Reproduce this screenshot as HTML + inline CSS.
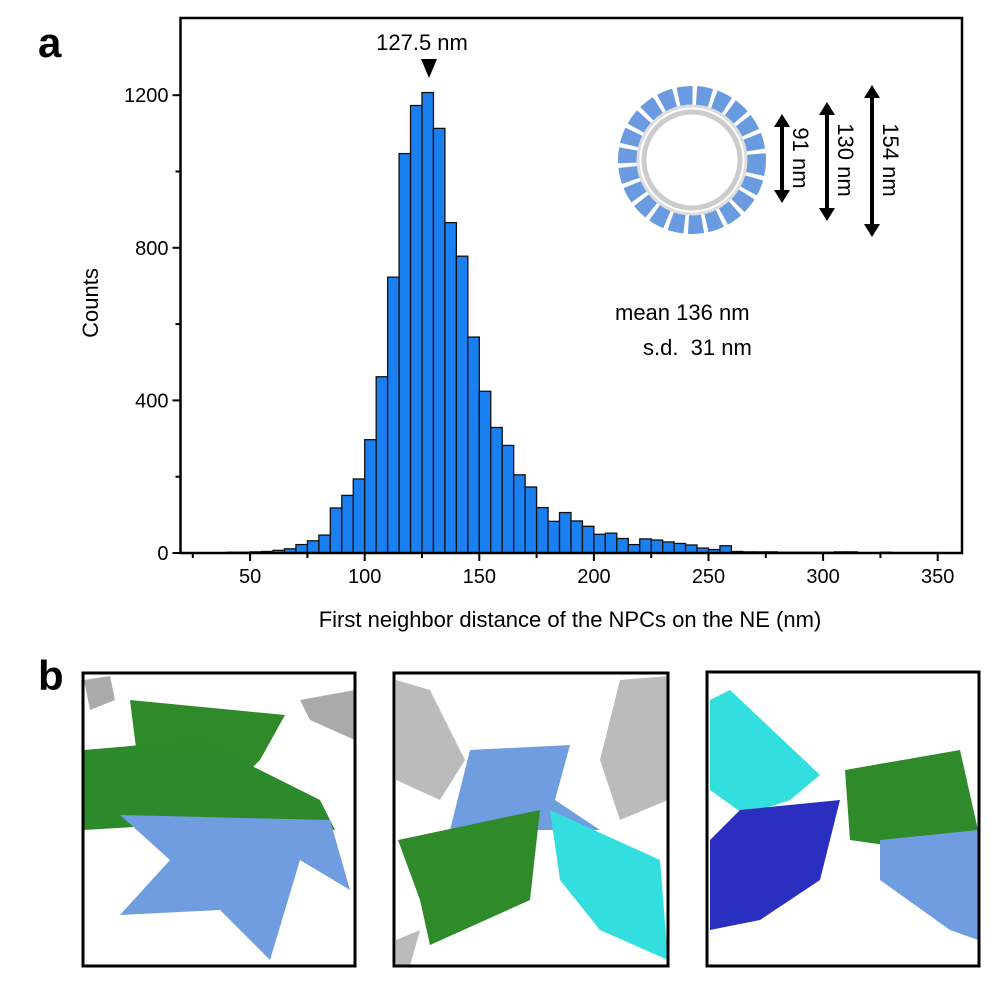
<!DOCTYPE html>
<html><head><meta charset="utf-8"><style>
body{margin:0;background:#fff;}
svg text{font-family:"Liberation Sans",Arial,sans-serif;}
</style></head><body>
<svg id="fig" width="1006" height="992" viewBox="0 0 1006 992" xmlns="http://www.w3.org/2000/svg">
<text x="38" y="57" font-size="42" font-weight="bold">a</text>
<text x="38" y="690" font-size="42" font-weight="bold">b</text>
<g id="chart"></g>
<text x="98" y="303" font-size="22" text-anchor="middle" transform="rotate(-90 98 303)">Counts</text>
<text x="570" y="627" font-size="22" text-anchor="middle">First neighbor distance of the NPCs on the NE (nm)</text>
<text x="422" y="50" font-size="22" text-anchor="middle">127.5 nm</text>
<polygon points="421,59 437,59 429,78" fill="#000"/>
<text x="615" y="320" font-size="22">mean 136 nm</text>
<text x="643" y="355" font-size="22">s.d.&#160; 31 nm</text>
<g>
  <circle cx="692" cy="160" r="64" fill="none" stroke="#6a9be0" stroke-width="20" stroke-dasharray="14 4"/>
  <circle cx="692" cy="160" r="48" fill="none" stroke="#ccc" stroke-width="5"/>
  <circle cx="692" cy="160" r="54" fill="none" stroke="#ddd" stroke-width="3"/>
</g>
<g fill="#000" stroke="#000">
  <line x1="782" y1="125" x2="782" y2="192" stroke-width="4"/>
  <polygon points="774,127 790,127 782,114" stroke="none"/><polygon points="774,190 790,190 782,203" stroke="none"/>
  <line x1="827" y1="113" x2="827" y2="210" stroke-width="4"/>
  <polygon points="819,115 835,115 827,102" stroke="none"/><polygon points="819,208 835,208 827,221" stroke="none"/>
  <line x1="872" y1="96" x2="872" y2="226" stroke-width="4"/>
  <polygon points="864,98 880,98 872,85" stroke="none"/><polygon points="864,224 880,224 872,237" stroke="none"/>
</g>
<text x="793" y="158" font-size="22" text-anchor="middle" transform="rotate(90 793 158)">91 nm</text>
<text x="838" y="160" font-size="22" text-anchor="middle" transform="rotate(90 838 160)">130 nm</text>
<text x="883" y="160" font-size="22" text-anchor="middle" transform="rotate(90 883 160)">154 nm</text>

<g>
  <rect x="83" y="673" width="272" height="293" fill="#fff"/>
  <polygon points="84,680 110,676 115,700 90,710" fill="#aaa"/>
  <polygon points="300,700 355,690 355,740 310,720" fill="#aaa"/>
  <polygon points="130,700 285,715 260,760 220,800 140,780" fill="#2f8a2a"/>
  <polygon points="84,750 200,740 320,800 335,830 250,820 84,830" fill="#2d8a2a"/>
  <polygon points="120,815 330,820 350,890 300,860 270,960 220,910 120,915 170,860" fill="#6f9de0"/>
</g>
<g>
  <rect x="394" y="673" width="274" height="293" fill="#fff"/>
  <polygon points="396,680 430,690 465,760 440,800 396,780" fill="#bbb"/>
  <polygon points="620,680 668,676 668,800 620,820 600,760" fill="#bbb"/>
  <polygon points="470,750 570,745 555,800 600,830 450,830" fill="#6f9de0"/>
  <polygon points="398,840 540,810 530,900 430,945 420,900" fill="#2f8a2a"/>
  <polygon points="550,810 660,860 668,960 600,930 560,880" fill="#33dede"/>
  <polygon points="396,940 420,930 410,966 396,966" fill="#bbb"/>
</g>
<g>
  <rect x="707" y="673" width="272" height="293" fill="#fff"/>
  <polygon points="710,700 730,690 820,775 790,800 745,815 710,790" fill="#33dede"/>
  <polygon points="845,770 960,750 978,830 920,850 850,840" fill="#2f8a2a"/>
  <polygon points="740,810 840,800 820,880 760,920 710,930 710,840" fill="#2a2fc0"/>
  <polygon points="880,840 978,830 978,940 950,930 880,880" fill="#6f9de0"/>
</g>
<rect x="83" y="673" width="272" height="293" fill="none" stroke="#000" stroke-width="3"/>
<rect x="394" y="673" width="274" height="293" fill="none" stroke="#000" stroke-width="3"/>
<rect x="707" y="672" width="272" height="294" fill="none" stroke="#000" stroke-width="3"/>
</svg>
<script>
const binStarts = [40,45,50,55,60,65,70,75,80,85,90,95,100,105,110,115,120,125,130,135,140,145,150,155,160,165,170,175,180,185,190,195,200,205,210,215,220,225,230,235,240,245,250,255,260,265,270,275,280,285,290,295,300,305,310,315,320,325,330,335,340,345];
const counts = [2,2,3,4,7,11,22,32,47,118,151,194,297,462,723,1047,1173,1207,1113,866,778,566,424,329,282,205,173,119,83,106,84,70,49,52,38,22,37,34,29,25,21,13,9,19,4,3,3,3,2,2,2,2,2,3,3,1,1,2,1,1,1,1];
const xTickValues = [50,100,150,200,250,300,350];
const yTickValues = [0,400,800,1200];
const binWidth = 5;
const NS = 'http://www.w3.org/2000/svg';
const L=180.5, R=962, T=18, B=553;
function xs(v){return 479.3+(v-150)*2.292;}
function ys(c){return B-c*0.3815;}
const g=document.getElementById('chart');
function mk(tag,attrs){const e=document.createElementNS(NS,tag);for(const k in attrs)e.setAttribute(k,attrs[k]);g.appendChild(e);return e;}
for(let i=0;i<counts.length;i++){
  const x0=xs(binStarts[i]), x1=xs(binStarts[i]+binWidth), y=ys(counts[i]);
  const r=mk('rect',{x:x0,y:y,width:x1-x0,height:B-y,fill:'#1a7ff0',stroke:'#111','stroke-width':1.3});
  
  
}
const frame=mk('rect',{x:L,y:T,width:R-L,height:B-T,fill:'none',stroke:'#000','stroke-width':2.5});


for(let v=25;v<=350;v+=25){
  mk('line',{x1:xs(v),x2:xs(v),y1:B,y2:B+(v%50===0?8:5),stroke:'#000','stroke-width':2});
}
xTickValues.forEach(v=>{
  const t=mk('text',{x:xs(v),y:B+30,'font-size':20,'text-anchor':'middle'});
  t.textContent=v;
  
  
});
for(let c=0;c<=1200;c+=200){
  mk('line',{x1:L,x2:L-(c%400===0?8:5),y1:ys(c),y2:ys(c),stroke:'#000','stroke-width':2});
}
yTickValues.forEach(c=>{
  const t=mk('text',{x:L-12,y:ys(c)+7,'font-size':20,'text-anchor':'end'});
  t.textContent=c;
  
  
});
</script>
</body></html>
